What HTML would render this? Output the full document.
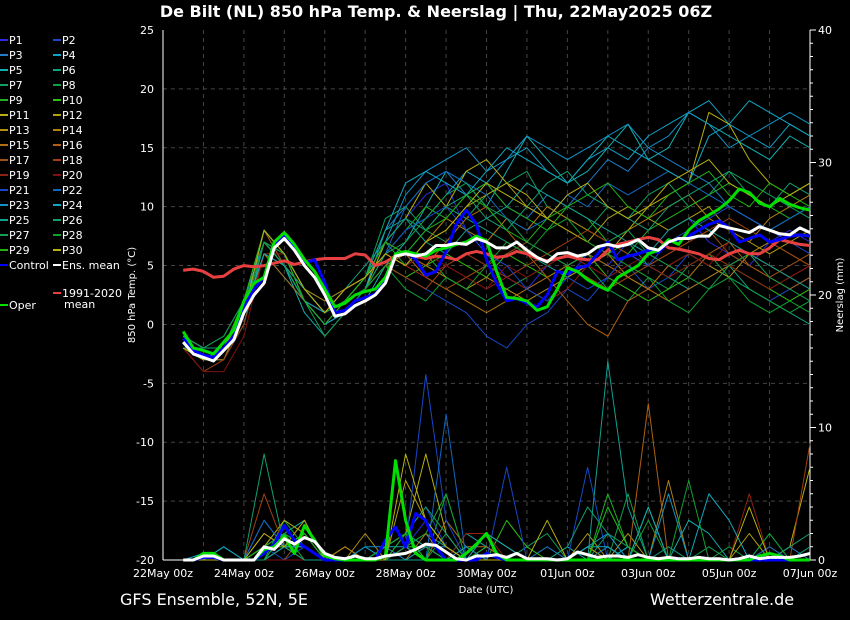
<!DOCTYPE html>
<html><head><meta charset="utf-8"><style>
html,body{margin:0;padding:0;background:#000;}
svg{display:block;font-family:"DejaVu Sans","Liberation Sans",sans-serif;}
</style></head><body>
<svg id="chart" width="850" height="620" viewBox="0 0 850 620" xmlns="http://www.w3.org/2000/svg">
<rect width="850" height="620" fill="#000"/>
<text x="436" y="17" text-anchor="middle" fill="#fff" font-size="16" font-weight="bold">De Bilt  (NL)  850 hPa Temp. &amp; Neerslag | Thu, 22May2025 06Z</text>
<g id="grid"></g>
<g id="axes"></g>
<g id="series"></g>
<g id="legend"></g>
<text x="132" y="295" transform="rotate(-90 132 295)" text-anchor="middle" dominant-baseline="middle" fill="#fff" font-size="10">850 hPa Temp. (°C)</text>
<text x="840" y="295" transform="rotate(-90 840 295)" text-anchor="middle" dominant-baseline="middle" fill="#fff" font-size="10">Neerslag (mm)</text>
<text x="486" y="593" text-anchor="middle" fill="#fff" font-size="10">Date (UTC)</text>
<text x="120" y="605" fill="#fff" font-size="16">GFS Ensemble, 52N, 5E</text>
<text x="650" y="605" fill="#fff" font-size="16">Wetterzentrale.de</text>
</svg>
<script>
const xTickLabels=["22May 00z","24May 00z","26May 00z","28May 00z","30May 00z","01Jun 00z","03Jun 00z","05Jun 00z","07Jun 00z"];
const yTicks=[25,20,15,10,5,0,-5,-10,-15,-20];
const y2Ticks=[0,10,20,30,40];
const ensMean=[-1.5,-2.5,-2.8,-3.1,-2.2,-1.3,1,2.5,3.5,6.5,7.3,6.3,5,4,2.5,0.7,0.9,1.6,2,2.5,3.5,5.8,6,5.8,6,6.7,6.7,6.9,6.8,7.3,7,6.5,6.5,7,6.3,5.7,5.3,6,6.1,5.8,6,6.6,6.8,6.6,6.8,7.2,6.5,6.3,7,7.3,7.3,7.5,7.5,8.4,8.2,8,7.8,8.3,8,7.7,7.6,8.2,7.8];
const climMean=[4.6,4.7,4.5,4.0,4.1,4.7,5.0,4.9,5.0,5.2,5.4,5.1,5.3,5.5,5.6,5.6,5.6,6.0,5.9,5.0,5.3,5.8,6.0,5.8,5.6,5.8,5.7,5.5,6.0,6.2,6.0,5.7,5.8,6.2,6.0,5.6,5.4,5.6,5.8,5.6,5.5,5.5,6.3,6.8,7.0,7.2,7.4,7.2,6.5,6.4,6.2,6.0,5.6,5.5,6.0,6.3,6.0,6.0,6.5,7.2,7.0,6.8,6.7];
const operTemp=[-0.6,-2,-2.2,-2.5,-1.5,-0.5,2,3.5,4,7,7.8,6.8,5.5,4.5,3,1.5,1.8,2.5,2.8,3,4,6,6.2,6,5.8,6.3,6.5,6.8,7,7.5,7.1,4.5,2.3,2.2,2,1.2,1.5,3,4.8,4.5,3.8,3.3,2.9,4,4.5,5,6,6.3,7.2,6.8,8,8.8,9.3,9.8,10.5,11.5,11.2,10.3,10,10.7,10.2,9.9,9.7];
const ctrlTemp=[-1.2,-2.2,-2.6,-2.8,-2,-1,1.5,3,4,6.8,7.5,6.5,5.2,5.5,3.5,1,1.2,2,2.3,2.6,3.8,5.8,6.2,5.5,4.2,4.5,6.2,8.5,9.7,8.5,5.5,3.5,2,2.2,1.8,1.5,2.5,4.5,4.3,4.8,5,6,7,5.5,5.8,6,6.3,6.1,7,7.2,7.5,8,8.5,8.8,8.2,7,7.3,7.6,7,7.2,7.5,7.6,7.5];
const meanPrecip=[0,0,0.3,0.3,0,0,0,0,1.0,0.8,1.6,1.2,1.7,1.4,0.5,0.2,0.1,0.3,0.1,0.1,0.3,0.4,0.5,0.8,1.2,1.1,0.6,0.1,0,0.3,0.3,0.4,0.2,0.5,0.1,0.1,0.1,0,0.1,0.6,0.4,0.2,0.3,0.3,0.2,0.4,0.2,0.1,0.2,0.1,0.1,0.2,0.1,0.1,0,0.1,0.3,0.1,0.2,0.2,0.2,0.3,0.5];
const operPrecip=[0,0,0.5,0.5,0,0,0,0,0.8,1,1.8,0.5,2.6,1.5,0.3,0.1,0,0,0,0,0.3,7.5,3,0.5,0,0,0,0,0.5,1.2,2,0.5,0,0,0,0,0,0,0,0,0,0,0,0,0,0,0,0,0,0,0,0,0,0,0,0,0,0.3,0.5,0.3,0,0,0];
const ctrlPrecip=[0,0,0.2,0.2,0,0,0,0,0.5,1.2,2.6,1.5,1,0.5,0,0,0,0,0,0,1.5,2.5,1,3.5,3,1,0,0,0,0,0.5,0.2,0,0,0,0,0,0,0,0,0,0,0,0,0,0,0,0,0,0,0,0,0,0,0,0,0,0,0,0,0,0,0];
const memberColors=["#2a2ae0","#1848c8","#1e7cc8","#10a0c8","#10b0b0","#10a080","#10a060","#10a040","#20b020","#30c010","#b8b010","#b0a010","#b09010","#b08010","#b07010","#b06010","#a05010","#a04010","#902010","#801010","#1848c8","#1068c0","#1094c8","#10a8c0","#10a090","#10a070","#10a050","#10a030","#20b010","#b8b010"];
const memberTemp=[
[-2,-3,-2,1,7,6,3,1,2,4,7,9,11,12,8,6,4,3,5,4,6,5,7,6,8,9,7,6,5,7,8,7],
[-1,-3,-2,2,7,5,2,0,1,3,5,4,3,2,1,-1,-2,0,1,3,2,4,5,3,4,6,5,4,3,2,3,4],
[-2,-2,-1,2,8,6,3,1,3,4,8,10,12,13,11,12,10,9,11,10,12,14,13,15,14,13,12,10,9,8,9,10],
[-1,-3,-2,1,6,4,2,1,2,3,6,8,9,11,13,12,14,15,13,12,14,15,14,16,17,18,19,17,16,15,17,16],
[-2,-3,-3,0,7,5,1,-1,1,2,5,7,10,13,12,10,13,16,14,12,13,15,17,14,15,18,17,16,15,14,16,15],
[-1,-2,-2,1,7,6,3,2,3,5,7,6,8,10,9,8,7,6,5,4,5,6,7,5,4,3,4,5,3,2,1,0],
[-2,-3,-2,2,8,5,2,0,2,4,9,10,8,7,9,11,12,13,10,9,8,10,9,11,12,10,11,13,12,11,10,9],
[-1,-2,-1,2,7,6,2,1,2,3,7,5,6,4,3,2,3,4,5,6,5,3,2,4,3,5,6,4,3,2,1,2],
[-2,-3,-2,1,6,5,3,1,2,4,6,8,10,9,11,12,10,9,8,10,9,7,6,8,9,10,11,12,11,10,9,10],
[-1,-2,-2,2,7,6,3,1,2,3,5,4,5,6,5,4,6,5,4,5,6,4,3,2,3,4,6,5,4,3,2,3],
[-2,-3,-2,1,7,5,2,0,2,3,7,9,12,10,13,14,12,11,9,8,7,6,8,10,11,12,18,17,14,12,11,12],
[-1,-2,-2,2,8,6,2,1,3,4,6,5,7,8,10,11,12,10,9,8,7,9,10,9,8,9,10,8,7,6,7,8],
[-2,-3,-2,1,8,6,3,1,2,4,7,6,5,4,3,4,3,2,3,4,5,6,4,3,5,6,5,4,6,7,6,5],
[-1,-2,-2,2,7,5,3,2,3,4,6,5,7,9,8,7,9,8,10,9,8,7,8,9,10,11,9,8,7,9,10,11],
[-2,-3,-3,1,6,4,2,0,1,3,5,6,4,3,2,1,2,3,4,5,6,5,4,3,2,3,4,5,6,5,4,5],
[-2,-3,-2,1,7,6,3,1,2,4,7,6,5,7,9,10,8,6,4,2,0,-1,2,3,5,4,6,7,5,4,3,4],
[-1,-2,-2,2,8,5,2,1,3,4,6,5,4,3,4,5,6,7,6,5,4,3,4,5,6,7,8,6,5,4,5,6],
[-2,-4,-3,0,6,6,3,1,2,3,5,4,3,5,6,5,4,5,6,7,8,7,6,5,6,7,8,9,8,7,6,5],
[-2,-3,-2,1,7,5,3,1,2,3,6,5,4,5,4,3,4,3,2,3,5,4,6,5,4,5,6,5,4,3,4,5],
[-2,-4,-4,-1,6,6,3,1,2,4,6,5,6,5,4,3,5,4,5,6,5,4,5,6,5,6,5,7,6,5,4,5],
[-1,-3,-2,1,7,5,2,0,1,3,6,8,9,10,8,6,5,3,2,4,3,4,6,5,7,8,9,10,9,8,7,6],
[-2,-3,-2,2,7,6,2,0,2,3,6,10,12,13,12,11,9,8,9,11,10,12,11,12,13,12,11,10,9,8,9,10],
[-1,-2,-2,2,7,5,2,1,2,4,7,11,13,14,15,13,14,16,15,14,15,16,17,15,16,18,17,15,16,17,18,17],
[-2,-3,-2,1,6,5,2,0,1,3,8,12,13,12,11,13,15,14,13,12,14,16,15,14,13,12,16,17,19,18,17,16],
[-2,-3,-2,1,7,5,3,1,2,4,8,9,7,6,8,9,10,12,11,10,9,8,7,6,8,9,8,7,6,5,4,3],
[-1,-2,-2,2,8,6,3,1,2,4,7,9,8,10,11,9,8,10,12,13,11,10,9,8,10,11,12,13,11,10,12,11],
[-2,-3,-2,1,7,5,2,-1,1,3,6,7,9,11,12,10,9,7,6,5,6,7,8,6,5,4,3,5,6,4,3,2],
[-1,-3,-2,1,7,6,3,1,2,3,5,3,2,4,3,5,7,6,8,9,7,6,5,4,2,1,3,4,2,1,2,1],
[-2,-3,-2,2,8,6,2,0,2,4,7,6,8,9,11,10,8,7,9,10,11,12,10,9,11,12,13,11,10,12,11,10],
[-2,-3,-2,1,8,6,3,1,3,4,6,5,7,8,10,12,11,10,9,11,12,10,9,10,12,13,14,12,11,10,11,12]];
const memberPrecip=[
[0,0,0,0,0,1,2,0,0,0,0,1,3,1,0,0,0,0,0,0,0,0,0,0,0,0,0,0,0,0,0,0],
[0,0,0,0,1,0,1,0,0,0,0,2,4,1,0,0,0,0,0,0,0,0,0,0,0,0,0,0,0,0,0,0],
[0,0,0,0,3,1,2,0,0,0,0,0,1,1,0,1,0,0,1,0,0,0,1,0,0,0,0,0,0,0,1,0],
[0,0.5,0,0,0,2,1,0,0,1,0,0,0,0,0,0,0,0,0,0,0,1,0,0,0,0,0,0,0,0,0,0],
[0,0,1,0,1,2,3,0,0,0,1,2,1,0,2,1,0,0,0,1,0,0,1,0,0,3,2,0,0,2,0,0],
[0,0,0,0,0,1,2,0,0,0,0,1,2,1,0,0,0,0,0,0,0,2,0,0,1,0,0,0,0,0,0,1],
[0,0,0,0,2,1,1,0,0,0,1,2,0,2,0,0,0,1,2,0,0,4,1,0,0,0,0,0,0,0,0,0],
[0,0,0,0,0,3,1,0,0,0,0,1,2,5,0,0,0,0,0,0,0,1,0,3,0,0,0,1,0,0,0,0],
[0,0,0,0,1,2,0,0,0,0,0,1,0,0,0,1,0,0,0,0,0,5,1,0,0,0,0,0,0,0,0,0],
[0,0,0,0,0,2,1,0,0,0,0,0,1,0,0,0,3,1,0,0,1,0,0,4,0,0,0,0,0,0,0,0],
[0,0,0,0,1,3,2,0,0,0,1,2,8,2,0,0,0,0,0,0,0,1,0,0,0,0,0,0,0,0,1,7],
[0,0,0,0,0,1,1,0,1,0,0,6,3,1,0,2,1,0,0,0,2,0,2,0,0,0,0,0,2,0,0,0],
[0,0,0,0,1,2,1,0,0,2,0,1,0,0,1,0,0,0,0,0,1,0,0,0,0,0,0,0,0,0,0,0],
[0,0,0,0,0,1,0,0,1,0,0,0,2,0,0,0,0,0,0,0,0,0,0,0,6,0,0,0,0,1,0,0],
[0,0,0,0,1,1,1,0,0,0,0,1,0,3,1,1,0,0,0,0,0,0,0,0,0,0,0,0,0,0,0,0],
[0,0,0,0,0,1,0,0,0,0,0,0,0,0,0,0,0,0,0,0,0,0,0,11.8,0,0,0,0,0,0,0,0],
[0,0,0,0,0,0,2,0,0,0,0,1,1,0,0,0,0,0,0,0,0,0,0,0,0,0,0,0,0,0,0,0],
[0,0,0,0,5,1,0,0,0,0,0,0,1,0,0,0,0,0,0,0,0,0,0,0,0,0,0,0,0,0,0,8.8],
[0,0,0,0,2,1,0,0,0,0,0,0,0,0,2,2,0,0,0,0,0,0,0,0,0,0,0,0,5,0,0,0],
[0,0,0,0,0,0,0,0,0,0,0,0,0,0,0,0,0,0,0,0,0,0,0,0,0,0,0,0,0,0,0,0],
[0,0,0,0,0,1,2,0,0,0,0,1,14,3,0,0,7,0,0,0,7,0,0,0,0,0,0,0,0,0,0,0],
[0,0,0,0,3,1,1,0,0,0,0,0,0,11,0,0,0,0,0,0,0,1,0,0,0,0,0,0,0,1,0,0],
[0,0,0,0,0,1,1,0,0,1,1,0,1,0,1,0,0,0,0,0,1,2,0,0,5,0,0,0,0,0,0,0],
[0,0,1,0,1,2,1,0,0,0,1,1,0,0,0,2,1,0,0,0,1,1,0,4,0,0,5,3,0,0,0,0],
[0,0,0,0,0,1,0,0,0,0,0,0,0,0,0,0,0,0,0,0,0,15,4,0,0,0,0,0,0,0,0,0],
[0,0,0,0,8,1,2,0,0,0,0,2,4,2,0,0,0,0,0,1,4,2,1,0,0,0,0,0,0,0,1,2],
[0,0,0,0,0,2,1,0,0,0,0,1,1,0,0,0,0,0,0,0,0,0,5,0,0,0,1,0,0,0,0,0],
[0,0,0,0,1,2,1,0,0,0,1,2,0,5,0,0,0,0,0,0,0,0,0,0,0,6,0,0,0,2,0,0],
[0,0,0,0,1,1,2,0,0,0,0,2,0,0,0,0,0,0,0,0,0,4,1,0,0,0,0,0,0,0,0,0],
[0,0,0,0,2,1,3,0,0,0,0,8,3,1,0,0,0,0,3,0,0,0,0,0,0,0,0,0,4,0,0,0]];

const NS="http://www.w3.org/2000/svg";
const X0=163,X1=810,YT=30,YB=560;
const xDay=d=>X0+(X1-X0)*d/16;
const yT=v=>YB-(v+20)*(YB-YT)/45;
const yP=v=>YB-v*(YB-YT)/40;
function mk(tag,attrs,parent){const e=document.createElementNS(NS,tag);for(const k in attrs)e.setAttribute(k,attrs[k]);parent.appendChild(e);return e;}
const grid=document.getElementById('grid'),axes=document.getElementById('axes'),ser=document.getElementById('series'),leg=document.getElementById('legend');
for(let d=1;d<16;d++){const l=mk('line',{x1:xDay(d),x2:xDay(d),y1:YT,y2:YB,stroke:'#444','stroke-dasharray':'4,4','stroke-width':1},grid);

}
yTicks.forEach(v=>{if(v>-20&&v<25){const l=mk('line',{x1:X0,x2:X1,y1:yT(v),y2:yT(v),stroke:'#444','stroke-dasharray':'4,4','stroke-width':1},grid);

}
const t=mk('text',{x:154,y:yT(v)+4,'text-anchor':'end',fill:'#fff','font-size':11},axes);t.textContent=v;

});
mk('line',{x1:X0,x2:X0,y1:YT,y2:YB,stroke:'#fff','stroke-width':1},axes);
mk('line',{x1:X1,x2:X1,y1:YT,y2:YB,stroke:'#fff','stroke-width':1},axes);
mk('line',{x1:X0,x2:X1,y1:YB,y2:YB,stroke:'#fff','stroke-width':1},axes);
for(let m=0;m<=40;m++){mk('line',{x1:X1,x2:X1+(m%10==0?6:3),y1:yP(m),y2:yP(m),stroke:'#fff','stroke-width':1},axes);}
y2Ticks.forEach(v=>{const t=mk('text',{x:818,y:yP(v)+4,fill:'#fff','font-size':11},axes);t.textContent=v;

});
xTickLabels.forEach((s,i)=>{const t=mk('text',{x:xDay(i*2),y:577,'text-anchor':'middle',fill:'#fff','font-size':11},axes);t.textContent=s;

});
function path(vals,stepH,startH,ys,color,w,name){const pts=vals.map((v,i)=>xDay((startH+i*stepH)/24).toFixed(1)+','+ys(v).toFixed(1));
const p=mk('polyline',{points:pts.join(' '),fill:'none',stroke:color,'stroke-width':w,'stroke-linejoin':'round'},ser);

}
memberPrecip.forEach((a,i)=>path(a,12,12,yP,memberColors[i],1,'precip-p'+(i+1)));
memberTemp.forEach((a,i)=>path(a,12,12,yT,memberColors[i],1,'temp-p'+(i+1)));
path(ctrlPrecip,6,12,yP,'#0000ff',3,'precip-control');
path(operPrecip,6,12,yP,'#00e000',3,'precip-oper');
path(meanPrecip,6,12,yP,'#ffffff',3,'precip-ens-mean');
path(climMean,6,12,yT,'#e84040',3,'temp-climate-mean');
path(ctrlTemp,6,12,yT,'#0000ff',3,'temp-control');
path(operTemp,6,12,yT,'#00e000',3,'temp-oper');
path(ensMean,6,12,yT,'#ffffff',3,'temp-ens-mean');
function legItem(x,y,color,label,w){mk('line',{x1:x,x2:x+8,y1:y,y2:y,stroke:color,'stroke-width':w},leg);
const t=mk('text',{x:x+9,y:y+4,fill:'#fff','font-size':11},leg);t.textContent=label;

return t;}
memberColors.forEach((c,i)=>{legItem(i%2?53:0,40+Math.floor(i/2)*15,c,'P'+(i+1),2);});
legItem(0,265,'#0000ff','Control',2);legItem(53,265,'#ffffff','Ens. mean',2);
legItem(53,293,'#e84040','1991-2020',2);
const tm=mk('text',{x:64,y:308,fill:'#fff','font-size':11},leg);tm.textContent='mean';


legItem(0,305,'#00e000','Oper',2);
</script>
</body></html>
